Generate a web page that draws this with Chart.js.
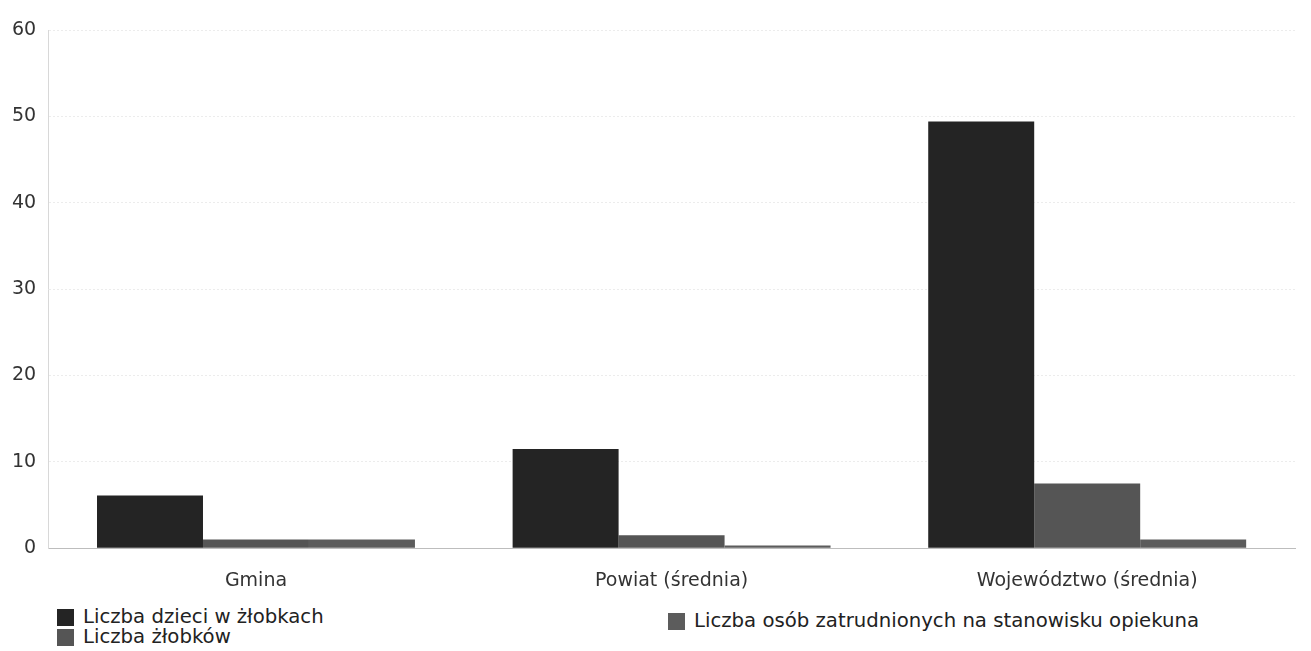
<!DOCTYPE html>
<html>
<head>
<meta charset="utf-8">
<script src="https://cdn.jsdelivr.net/npm/chart.js@4/dist/chart.umd.min.js"></script>
<style>
  body { margin: 0; background: #fff; font-family: "DejaVu Sans", sans-serif; }
  #wrap { position: relative; width: 1311px; height: 605px; }
  .leg { position: absolute; font-size: 19.7px; color: #222; display: flex; align-items: center; line-height: 20px; }
  .leg span.box { width: 17px; height: 17px; margin-right: 9px; display: inline-block; }
</style>
</head>
<body>
<div id="wrap"><canvas id="chart_1"></canvas></div>
<div class="leg" style="left:57px; top:607px;"><span class="box" style="background:#242424"></span>Liczba dzieci w żłobkach</div>
<div class="leg" style="left:57px; top:627px;"><span class="box" style="background:#555"></span>Liczba żłobków</div>
<div class="leg" style="left:668px; top:611px;"><span class="box" style="background:#5c5c5c"></span>Liczba osób zatrudnionych na stanowisku opiekuna</div>
<script>
var categories = ["Gmina", "Powiat (średnia)", "Województwo (średnia)"];
var dzieci = [6.1, 11.5, 49.4];
var zlobki = [1.0, 1.5, 7.5];
var opiekunowie = [1.0, 0.3, 1.0];

new Chart("chart_1", {
  type: "bar",
  data: {
    labels: categories,
    datasets: [
      { label: "Liczba dzieci w żłobkach", data: dzieci, backgroundColor: "#242424" },
      { label: "Liczba żłobków", data: zlobki, backgroundColor: "#555555" },
      { label: "Liczba osób zatrudnionych na stanowisku opiekuna", data: opiekunowie, backgroundColor: "#5c5c5c" }
    ]
  },
  options: {
    responsive: true,
    maintainAspectRatio: false,
    animation: false,
    layout: { padding: { top: 30, right: 16, left: 0 } },
    datasets: { bar: { categoryPercentage: 0.765, barPercentage: 1 } },
    plugins: { legend: { display: false }, tooltip: { enabled: false } },
    scales: {
      x: {
        grid: { display: false },
        border: { color: "#bdbdbd" },
        ticks: { color: "#333", font: { family: "DejaVu Sans", size: 19 }, padding: 13 }
      },
      y: {
        min: 0, max: 60,
        ticks: { stepSize: 10, color: "#333", font: { family: "DejaVu Sans", size: 19 }, padding: 12 },
        grid: { color: "#ececec", drawTicks: false },
        border: { color: "#d8d8d8", dash: [2, 2] }
      }
    }
  }
});
</script>
</body>
</html>
